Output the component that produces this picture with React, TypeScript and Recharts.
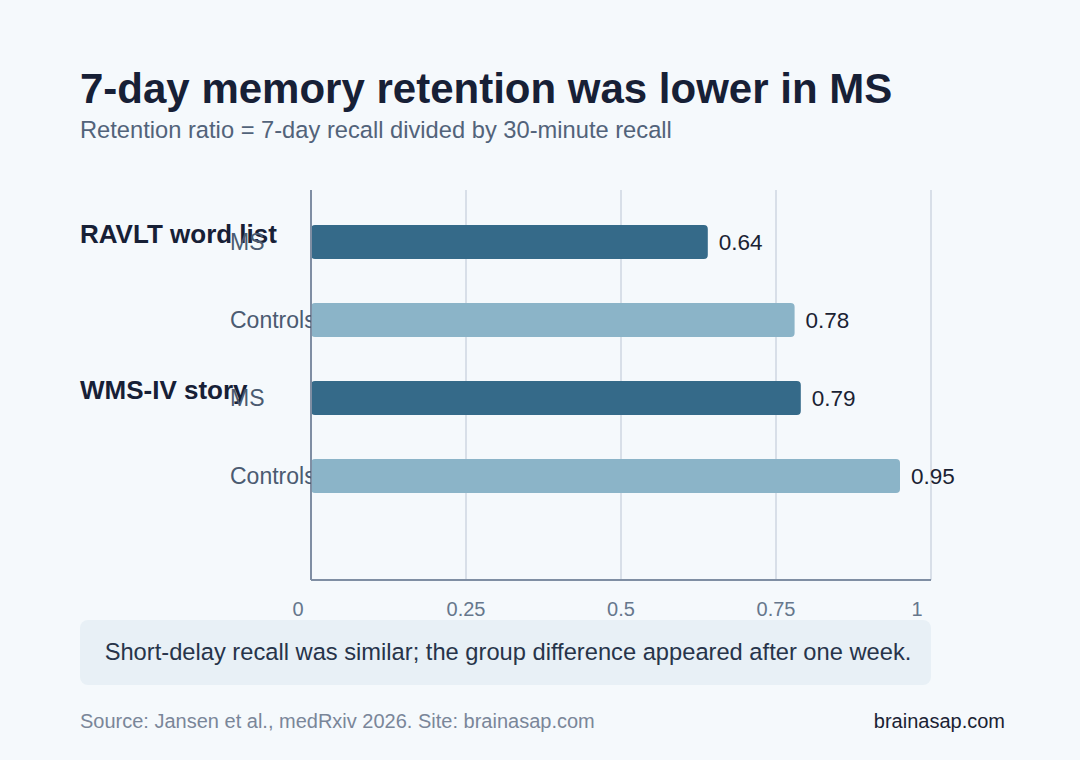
import React from "react";
import {
  BarChart,
  Bar,
  XAxis,
  YAxis,
  CartesianGrid,
  LabelList,
  Cell,
} from "recharts";

const groups = ["RAVLT word list", "RAVLT word list", "WMS-IV story", "WMS-IV story"];
const categories = ["MS", "Controls", "MS", "Controls"];
const retention = [0.64, 0.78, 0.79, 0.95];
const xTicks = [0, 0.25, 0.5, 0.75, 1];

const FONT = '"Liberation Sans", Arial, Helvetica, sans-serif';
const W = 1080;
const H = 760;
const PLOT_LEFT = 311;
const PLOT_RIGHT = 931;
const PLOT_TOP = 190;
const PLOT_BOTTOM = 580;

const barColor = (cat: string) => (cat === "MS" ? "#356a89" : "#8bb4c8");

const data = categories.map((cat, i) => ({
  key: `${groups[i]}|${cat}`,
  group: groups[i],
  category: cat,
  value: retention[i],
}));

function CategoryTick(props: any) {
  const { y, payload } = props;
  const idx = payload.index ?? data.findIndex((d) => d.key === payload.value);
  const row = data[idx];
  if (!row) return null;
  const firstOfGroup = idx === 0 || data[idx - 1].group !== row.group;
  const clipId = `ytick-clip-${idx}`;
  return (
    <g>
      <defs>
        <clipPath id={clipId}>
          <rect x={0} y={0} width={PLOT_LEFT} height={H} />
        </clipPath>
      </defs>
      {firstOfGroup && (
        <text
          x={80}
          y={y + 1}
          fontSize={26}
          fontWeight={700}
          fill="#172036"
          fontFamily={FONT}
        >
          {row.group}
        </text>
      )}
      <text
        x={230}
        y={y}
        dy={8}
        fontSize={23}
        fill="#4b5b71"
        fontFamily={FONT}
        clipPath={`url(#${clipId})`}
      >
        {row.category}
      </text>
    </g>
  );
}

function ValueTick(props: any) {
  const { x, y, payload } = props;
  const v = payload.value;
  let shift = 0;
  if (v === xTicks[0]) shift = -13;
  if (v === xTicks[xTicks.length - 1]) shift = -14;
  return (
    <text
      x={x + shift}
      y={y}
      dy={28}
      textAnchor="middle"
      fontSize={20}
      fill="#66778c"
      fontFamily={FONT}
    >
      {String(v)}
    </text>
  );
}

export default function App() {
  return (
    <div
      style={{
        position: "absolute",
        left: 0,
        top: 0,
        width: W,
        height: H,
        background: "#f5f9fc",
        fontFamily: FONT,
      }}
    >
      <svg
        width={W}
        height={H}
        style={{ position: "absolute", left: 0, top: 0 }}
      >
        <text x={80} y={103} fontSize={42} fontWeight={700} fill="#172036">
          7-day memory retention was lower in MS
        </text>
        <text x={80} y={138} fontSize={23.7} fill="#52637a">
          Retention ratio = 7-day recall divided by 30-minute recall
        </text>
        <rect x={80} y={620} width={851} height={65} rx={8} fill="#e8f0f6" />
        <text
          x={508}
          y={660}
          fontSize={23.7}
          textAnchor="middle"
          fill="#27344a"
        >
          Short-delay recall was similar; the group difference appeared after one week.
        </text>
        <text x={80} y={728} fontSize={20} fill="#7a8699">
          Source: Jansen et al., medRxiv 2026. Site: brainasap.com
        </text>
        <text x={1005} y={728} fontSize={20} textAnchor="end" fill="#1a2233">
          brainasap.com
        </text>
      </svg>
      <div style={{ position: "absolute", left: 0, top: 0 }}>
        <BarChart
          width={W}
          height={H}
          data={data}
          layout="vertical"
          margin={{
            top: PLOT_TOP,
            right: W - PLOT_RIGHT,
            left: 230,
            bottom: H - PLOT_BOTTOM - 40,
          }}
        >
          <CartesianGrid
            horizontal={false}
            stroke="#d8dfe8"
            strokeWidth={2}
          />
          <XAxis
            type="number"
            domain={[0, 1]}
            ticks={xTicks}
            height={40}
            tickLine={false}
            axisLine={{ stroke: "#7f8ea3", strokeWidth: 2 }}
            tick={<ValueTick />}
            interval={0}
          />
          <YAxis
            type="category"
            dataKey="key"
            width={PLOT_LEFT - 230}
            padding={{ top: 13, bottom: 65 }}
            tickLine={false}
            axisLine={{ stroke: "#7f8ea3", strokeWidth: 2 }}
            tick={<CategoryTick />}
            interval={0}
          />
          <Bar
            dataKey="value"
            barSize={34}
            radius={4}
            isAnimationActive={false}
          >
            {data.map((d) => (
              <Cell key={d.key} fill={barColor(d.category)} />
            ))}
            <LabelList
              dataKey="value"
              position="right"
              offset={11}
              fontSize={22.5}
              fill="#1a2233"
              fontFamily={FONT}
            />
          </Bar>
        </BarChart>
      </div>
    </div>
  );
}
